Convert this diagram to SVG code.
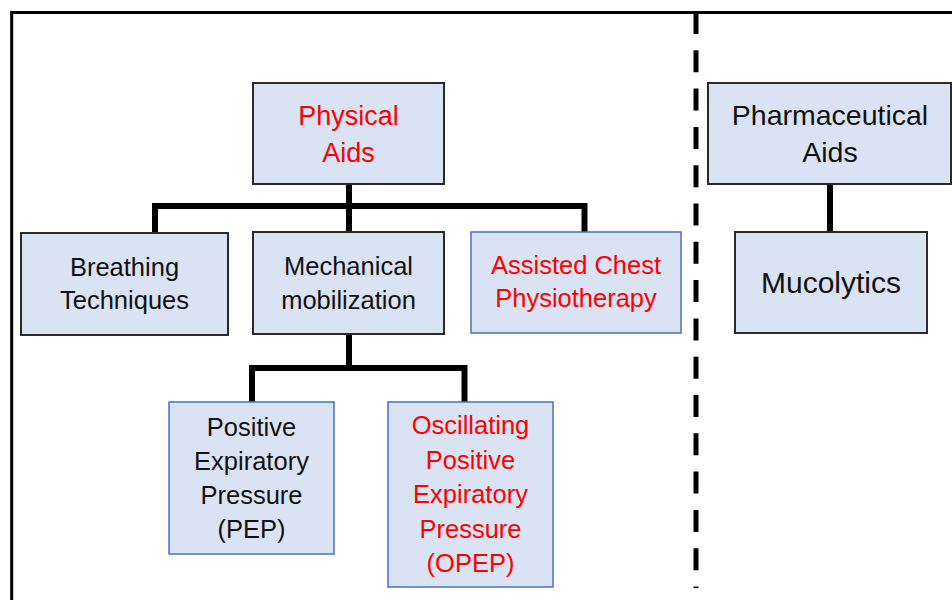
<svg xmlns="http://www.w3.org/2000/svg" width="952" height="600" viewBox="0 0 952 600">
<style>
.box{fill:#DAE3F3;stroke:#2a2a2a;stroke-width:2}
.bbox{fill:#DAE3F3;stroke:#4472C4;stroke-width:1.5}
.t{font-family:"Liberation Sans",Arial,sans-serif;font-size:25.5px;text-anchor:middle;fill:#111}
.big{font-size:27px}
.big2{font-size:28.5px}
.muc{font-size:30px}
.red{fill:#FF0000}
.conn{fill:none;stroke:#000;stroke-width:6;stroke-linejoin:miter;stroke-linecap:butt}
</style>
<rect width="952" height="600" fill="#fff"/>
<g id="frame">
<path d="M11.7,600 V12.5 H952" fill="none" stroke="#000" stroke-width="3"/>
<line x1="696" y1="12" x2="696" y2="588" stroke="#000" stroke-width="5" stroke-dasharray="22 16.3"/>
</g>
<g id="connectors">
<path class="conn" d="M155,233 V206 H584.5 V232"/>
<path class="conn" d="M349,184 V232"/>
<path class="conn" d="M349,334 V368"/>
<path class="conn" d="M252,402 V368 H464.5 V402"/>
<path class="conn" d="M830,184 V232"/>
</g>
<g id="physical-aids">
<rect class="box" x="253" y="83" width="191" height="101"/>
<text class="t big red" x="348.5" y="125">Physical</text>
<text class="t big red" x="348.5" y="161.5">Aids</text>
</g>
<g id="pharmaceutical-aids">
<rect class="box" x="708" y="83" width="243" height="101"/>
<text class="t big2" x="830" y="125">Pharmaceutical</text>
<text class="t big2" x="830" y="161.5">Aids</text>
</g>
<g id="breathing-techniques">
<rect class="box" x="21" y="233" width="207" height="102"/>
<text class="t" x="124.5" y="276">Breathing</text>
<text class="t" x="124.5" y="309">Techniques</text>
</g>
<g id="mechanical-mobilization">
<rect class="box" x="253" y="232" width="191" height="102"/>
<text class="t" x="348.5" y="275">Mechanical</text>
<text class="t" x="348.5" y="309">mobilization</text>
</g>
<g id="assisted-chest-physiotherapy">
<rect class="bbox" x="471" y="232" width="210" height="101"/>
<text class="t red" x="576" y="274">Assisted Chest</text>
<text class="t red" x="576" y="307">Physiotherapy</text>
</g>
<g id="mucolytics">
<rect class="box" x="735" y="232" width="192" height="101"/>
<text class="t muc" x="831" y="293">Mucolytics</text>
</g>
<g id="pep">
<rect class="bbox" x="169" y="402" width="165" height="152"/>
<text class="t" x="251.5" y="436">Positive</text>
<text class="t" x="251.5" y="470">Expiratory</text>
<text class="t" x="251.5" y="504">Pressure</text>
<text class="t" x="251.5" y="538">(PEP)</text>
</g>
<g id="opep">
<rect class="bbox" x="388" y="402" width="165" height="185"/>
<text class="t red" x="470.5" y="434">Oscillating</text>
<text class="t red" x="470.5" y="468.5">Positive</text>
<text class="t red" x="470.5" y="503">Expiratory</text>
<text class="t red" x="470.5" y="537.5">Pressure</text>
<text class="t red" x="470.5" y="572">(OPEP)</text>
</g>
</svg>
